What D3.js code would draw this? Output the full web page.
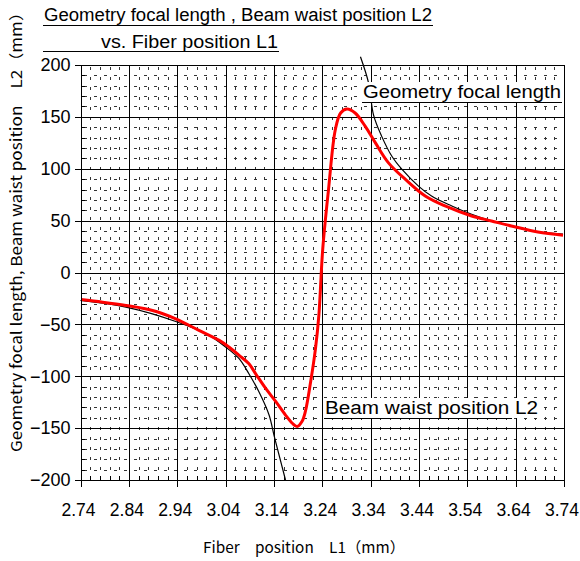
<!DOCTYPE html>
<html><head><meta charset="utf-8">
<script src="https://cdn.jsdelivr.net/npm/d3@7"></script>
<style>body{margin:0;background:#fff}svg{display:block}</style>
</head><body>
<svg id="c" width="580" height="561"></svg>
<script>
const titleLines = ["Geometry focal length , Beam waist position L2", "vs. Fiber position L1"];
const xLabel = "Fiber　position　L1（mm）";
const yLabel = "Geometry focal length, Beam waist position　L2（mm）";
const xTicks = [2.74, 2.84, 2.94, 3.04, 3.14, 3.24, 3.34, 3.44, 3.54, 3.64, 3.74];
const yTicks = [-200, -150, -100, -50, 0, 50, 100, 150, 200];
const seriesNames = ["Geometry focal length", "Beam waist position L2"];

// Geometry focal length, left branch
const geoLeftL1 = [2.74, 2.834, 2.937, 3.006, 3.040, 3.068, 3.088, 3.109, 3.130, 3.140, 3.147, 3.164];
const geoLeftL2 = [-27, -33.4, -47.2, -60.6, -71.8, -83.0, -97.4, -115, -137.4, -156.5, -169.3, -200];
// Geometry focal length, right branch
const geoRightL1 = [3.319, 3.336, 3.346, 3.363, 3.384, 3.405, 3.439, 3.466, 3.508, 3.549, 3.590, 3.631, 3.673, 3.738];
const geoRightL2 = [208, 182.4, 152, 131.2, 112, 99.3, 83.3, 73.7, 64.1, 56.1, 49.7, 44.9, 40.1, 36.9];
// Beam waist position L2
const waistL1 = [2.741, 2.786, 2.834, 2.889, 2.937, 2.985, 3.027, 3.047, 3.068, 3.088, 3.102, 3.123, 3.144, 3.164, 3.178, 3.188, 3.198, 3.205, 3.216, 3.226, 3.233, 3.241, 3.253, 3.267, 3.278, 3.291, 3.308, 3.329, 3.350, 3.377, 3.412, 3.453, 3.494, 3.549, 3.590, 3.631, 3.686, 3.738];
const waistL2 = [-26.1, -28.6, -31.8, -36.6, -44.6, -55.8, -65.4, -71.8, -79.8, -87.8, -97.4, -111.8, -124.5, -137.4, -145.3, -148.5, -143.7, -134.1, -105.3, -73.4, -41.4, 22.5, 80.1, 137.6, 153.7, 157.5, 153.7, 140.8, 124.9, 105.7, 89.7, 73.7, 64.1, 54.5, 49.7, 44.9, 39.1, 36];

const svg = d3.select("#c");
const L = 80.5, R = 564, T = 65, B = 480;
const x = d3.scaleLinear().domain([2.74, 3.74]).range([L, R]);
const y = d3.scaleLinear().domain([-200, 200]).range([B, T]);
const FONT = "'Liberation Sans', Arial, sans-serif";

// minor grid
const minorX = d3.range(0, 50).map(i => 2.74 + i * 0.02).filter((v, i) => i % 5 !== 0);
const minorY = d3.range(-200, 201, 10).filter(v => v % 50 !== 0);
const g = svg.append("g").attr("shape-rendering", "crispEdges");
g.selectAll(".mx").data(minorX).join("line")
  .attr("x1", d => Math.round(x(d)) + 0.5).attr("x2", d => Math.round(x(d)) + 0.5)
  .attr("y1", T).attr("y2", B)
  .attr("stroke", "#333").attr("stroke-width", 1).attr("stroke-dasharray", "3,7").attr("stroke-dashoffset", -2);
g.selectAll(".my").data(minorY).join("line")
  .attr("y1", d => Math.round(y(d)) + 0.5).attr("y2", d => Math.round(y(d)) + 0.5)
  .attr("x1", L).attr("x2", R)
  .attr("stroke", "#333").attr("stroke-width", 1).attr("stroke-dasharray", "3,7").attr("stroke-dashoffset", -3);
// major grid
g.selectAll(".Mx").data(xTicks).join("line")
  .attr("x1", d => Math.round(x(d)) + 0.5).attr("x2", d => Math.round(x(d)) + 0.5)
  .attr("y1", T).attr("y2", B).attr("stroke", "#000").attr("stroke-width", 1);
g.selectAll(".My").data(yTicks).join("line")
  .attr("y1", d => Math.round(y(d)) + 0.5).attr("y2", d => Math.round(y(d)) + 0.5)
  .attr("x1", L).attr("x2", R).attr("stroke", "#000").attr("stroke-width", 1);

// curves
const line = d3.line().x(d => x(d[0])).y(d => y(d[1])).curve(d3.curveCatmullRom.alpha(0.5));
const zip = (a, b) => a.map((v, i) => [v, b[i]]);
svg.append("path").attr("d", line(zip(geoLeftL1, geoLeftL2))).attr("fill", "none").attr("stroke", "#000").attr("stroke-width", 1.2);
svg.append("path").attr("d", line(zip(geoRightL1, geoRightL2))).attr("fill", "none").attr("stroke", "#000").attr("stroke-width", 1.2);
svg.append("path").attr("d", line(zip(waistL1, waistL2))).attr("fill", "none").attr("stroke", "#ff0000").attr("stroke-width", 3).attr("stroke-linejoin", "round");

// annotation boxes
function annot(text, x0, yb, w, ulEnd) {
  svg.append("rect").attr("x", x0 - 2).attr("y", yb - 16).attr("width", w + 4).attr("height", 20).attr("fill", "#fff");
  svg.append("text").attr("x", x0).attr("y", yb).attr("font-family", FONT).attr("font-size", 18)
    .attr("textLength", w).attr("lengthAdjust", "spacingAndGlyphs").text(text);
  svg.append("line").attr("x1", x0 - 1).attr("x2", ulEnd).attr("y1", yb + 4.5).attr("y2", yb + 4.5).attr("stroke", "#000").attr("stroke-width", 1);
}
annot(seriesNames[0], 363, 98, 198, 562);
annot(seriesNames[1], 325, 414, 213, 512);

// axes
const ax = svg.append("g").attr("shape-rendering", "crispEdges");
ax.append("rect").attr("x", Math.round(L) + 0.5).attr("y", T + 0.5).attr("width", Math.round(R) - Math.round(L)).attr("height", B - T).attr("fill", "none").attr("stroke", "#000");
const xAxis = d3.axisBottom(x).tickValues(xTicks).tickSize(6).tickFormat(d3.format(".2f"));
const xa = ax.append("g").attr("transform", `translate(0,${B + 0.5})`).call(xAxis);
xa.select(".domain").remove();
xa.selectAll("text").attr("font-family", FONT).attr("font-size", 17.5).attr("fill", "#000").attr("dy", "1.5em").attr("dx", -2.5);
const xm = ax.append("g");
xm.selectAll("line").data(d3.range(0, 51).map(i => 2.74 + i * 0.02)).join("line")
  .attr("x1", d => Math.round(x(d)) + 0.5).attr("x2", d => Math.round(x(d)) + 0.5)
  .attr("y1", B - 4).attr("y2", B).attr("stroke", "#000");
const yAxis = d3.axisLeft(y).tickValues(yTicks).tickSize(7).tickFormat(d => d < 0 ? "−" + Math.abs(d) : d);
const ya = ax.append("g").attr("transform", `translate(${Math.round(L) + 0.5},0)`).call(yAxis);
ya.select(".domain").remove();
ya.selectAll("text").attr("font-family", FONT).attr("font-size", 18).attr("fill", "#000").attr("dx", "-0.05em");
ax.append("g").selectAll("line").data(d3.range(-200, 201, 10)).join("line")
  .attr("y1", d => Math.round(y(d)) + 0.5).attr("y2", d => Math.round(y(d)) + 0.5)
  .attr("x1", L).attr("x2", L + 4).attr("stroke", "#000");

// titles
const TF = "'Noto Sans CJK JP', 'Liberation Sans', sans-serif";
svg.append("text").attr("x", 44).attr("y", 21).attr("font-family", FONT).attr("font-size", 18)
  .attr("textLength", 388).attr("lengthAdjust", "spacingAndGlyphs").text(titleLines[0]);
svg.append("line").attr("x1", 43).attr("x2", 433).attr("y1", 25.5).attr("y2", 25.5).attr("stroke", "#000");
svg.append("text").attr("x", 101).attr("y", 48).attr("font-family", FONT).attr("font-size", 18)
  .attr("textLength", 177).attr("lengthAdjust", "spacingAndGlyphs").text(titleLines[1]);
svg.append("line").attr("x1", 43).attr("x2", 279).attr("y1", 51.5).attr("y2", 51.5).attr("stroke", "#000");

svg.append("text").attr("x", 304).attr("y", 553).attr("text-anchor", "middle").attr("font-family", TF).attr("font-size", 15)
  .attr("textLength", 202).attr("lengthAdjust", "spacingAndGlyphs").text(xLabel);
svg.append("text").attr("transform", "translate(22,228) rotate(-90)").attr("text-anchor", "middle").attr("font-family", TF).attr("font-size", 15)
  .attr("textLength", 448).attr("lengthAdjust", "spacingAndGlyphs").text(yLabel);
</script>
</body></html>
